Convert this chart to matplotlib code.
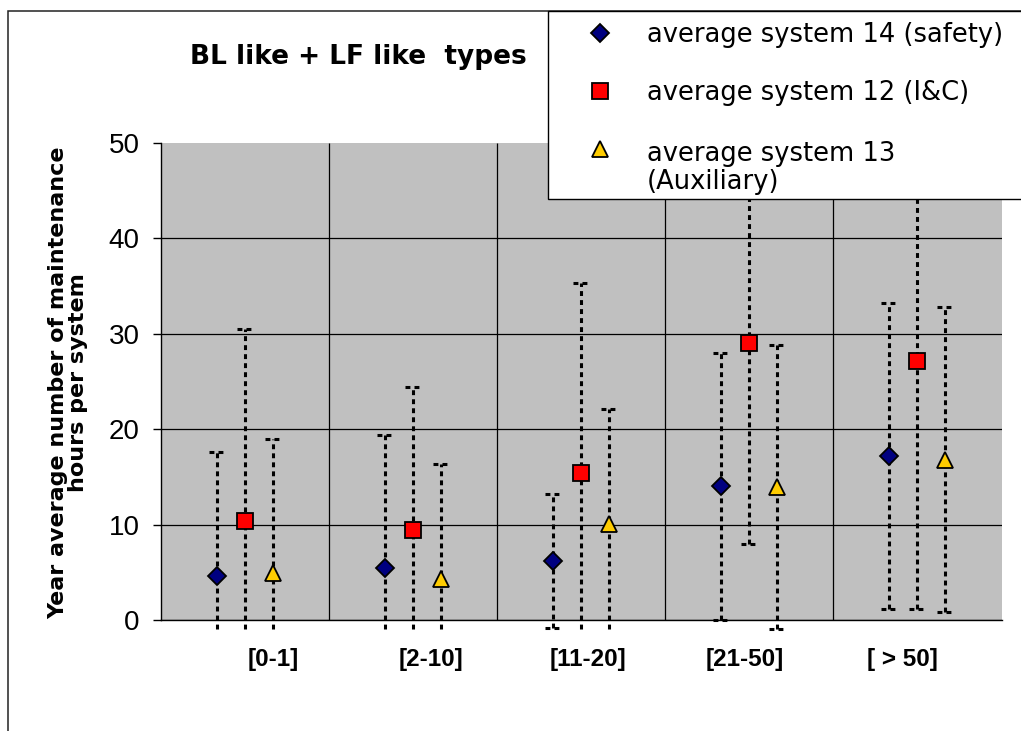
import numpy as np
import matplotlib.pyplot as plt
from matplotlib.patches import Rectangle
from matplotlib.lines import Line2D

# categories and series (means with +/- half range)
categories = ["[0-1]", "[2-10]", "[11-20]", "[21-50]", "[ > 50]"]
series_names = ["average system 14 (safety)", "average system 12 (I&C)",
                "average system 13\n(Auxiliary)"]

sys14_mean = [4.6, 5.4, 6.2, 14.0, 17.2]
sys14_err = [13.0, 14.0, 7.0, 14.0, 16.0]
sys12_mean = [10.4, 9.4, 15.4, 29.0, 27.2]
sys12_err = [20.1, 15.0, 19.9, 21.0, 26.0]
sys13_mean = [4.9, 4.35, 10.1, 13.95, 16.8]
sys13_err = [14.1, 12.0, 12.0, 14.85, 16.0]
y_ticks = [0, 10, 20, 30, 40, 50]

# styles
markers = ["D", "s", "^"]
msizes = [9.3, 12, 12]
colors = ["#000080", "#FF0000", "#FFCC00"]
offsets = [-1 / 6, 0, 1 / 6]
dash = (0, (1.6, 1.35))

W, H = 1021, 731
def fx(px):
    return px / W
def fy(py):
    return 1 - py / H

fig = plt.figure(figsize=(W / 100, H / 100), dpi=100)
ax = fig.add_axes([fx(161), fy(620), (1001.5 - 161) / W, (620 - 143) / H])
ax.set_facecolor("#C0C0C0")

x = np.arange(len(categories))
means = [sys14_mean, sys12_mean, sys13_mean]
errs = [sys14_err, sys12_err, sys13_err]
floor = -0.95  # error bars are cut just under the axis

for mean, err, off, mk, ms, col in zip(means, errs, offsets, markers, msizes, colors):
    mean = np.array(mean)
    err = np.array(err)
    xs = x + off
    lo = mean - err
    hi = mean + err
    ax.vlines(xs, np.maximum(lo, floor), hi, colors="black", lw=2.2,
              linestyles=[dash], clip_on=False, zorder=3)
    ax.hlines(hi, xs - 0.05, xs + 0.05, colors="black", lw=2.2,
              linestyles=[dash], clip_on=False, zorder=3)
    keep = lo >= floor
    ax.hlines(lo[keep], xs[keep] - 0.05, xs[keep] + 0.05, colors="black", lw=2.2,
              linestyles=[dash], clip_on=False, zorder=3)
    ax.plot(xs, mean, ls="none", marker=mk, ms=ms, mfc=col, mec="black",
            mew=1.3, zorder=4, clip_on=False)

ax.set_xlim(-0.5, len(categories) - 0.5)
ax.set_ylim(0, 50)
ax.vlines(x[:-1] + 0.5, 0, 50, colors="black", lw=0.9, zorder=1.5)

ax.set_yticks(y_ticks)
ax.set_yticklabels([str(t) for t in y_ticks], family="Liberation Sans", fontsize=20)
ax.yaxis.grid(True, color="black", lw=0.9)
ax.set_axisbelow(True)
ax.yaxis.get_gridlines()[-1].set_visible(False)
ax.tick_params(axis="y", length=5.8, width=1, pad=9.5, direction="out")

label_pos = 0.17 + x * 0.935
ax.set_xticks(label_pos)
ax.set_xticklabels(categories, family="Liberation Sans", fontweight="bold", fontsize=17.5)
ax.tick_params(axis="x", length=0, pad=20)

for s in ["top", "right"]:
    ax.spines[s].set_visible(False)
for s in ["left", "bottom"]:
    ax.spines[s].set_color("black")
    ax.spines[s].set_linewidth(1)

fig.text(fx(68), fy(383), "Year average number of maintenance\nhours per system",
         rotation=90, ha="center", va="center", fontsize=16, fontweight="bold",
         linespacing=0.95, multialignment="center")
fig.text(fx(358), fy(57), "BL like + LF like  types", ha="center", va="center",
         fontsize=19, fontweight="bold")

# outer chart frame
fig.add_artist(Rectangle((fx(7.5), -0.2), 2, 1.2 - 10.5 / H, transform=fig.transFigure,
                         fill=False, edgecolor="#222222", lw=1.1, zorder=-1))

# legend box
fig.add_artist(Rectangle((fx(548), fy(199)), (1040 - 548) / W, (199 - 10.5) / H,
                         transform=fig.transFigure, facecolor="white",
                         edgecolor="black", lw=1.0, zorder=5))
baselines = [42, 100, 158]
line_pitch = 31
for name, mk, ms, col, base in zip(series_names, markers, msizes, colors, baselines):
    fig.add_artist(Line2D([fx(600)], [fy(base - 9.5)], transform=fig.transFigure,
                          ls="none", marker=mk, ms=ms, mfc=col, mec="black",
                          mew=1.3, zorder=6))
    last = base + line_pitch * name.count("\n")
    fig.text(fx(647), fy(last), name, ha="left", va="baseline", fontsize=18.5,
             linespacing=1.08, zorder=6)

fig.savefig("out.png", dpi=100)
